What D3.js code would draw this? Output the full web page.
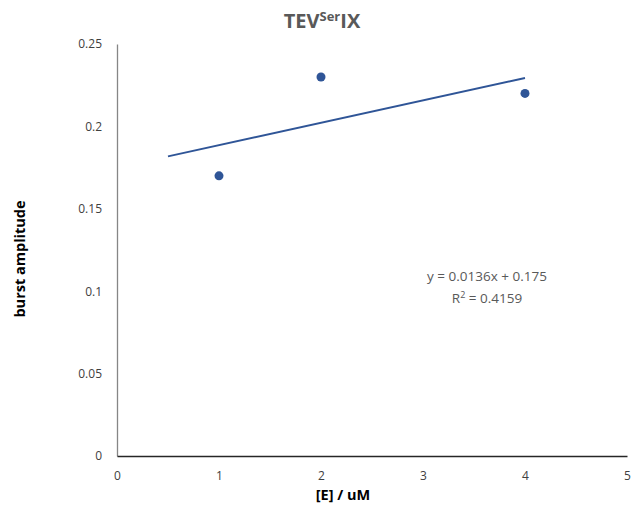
<!DOCTYPE html>
<html>
<head>
<meta charset="utf-8">
<script src="https://cdn.jsdelivr.net/npm/d3@7"></script>
<style>
  body { margin: 0; background: #fff; }
  text { font-family: "Open Sans", "Liberation Sans", sans-serif; }
</style>
</head>
<body>
<div class="container"></div>
<script>
// Data
const xValues = [1, 2, 4];
const yValues = [0.17, 0.23, 0.22];
const xTicks = [0, 1, 2, 3, 4, 5];
const yTicks = [0, 0.05, 0.1, 0.15, 0.2, 0.25];
const yTickLabels = ['0', '0.05', '0.1', '0.15', '0.2', '0.25'];
// trendline y = 0.0136x + 0.175, drawn from x = 0.5 to 4
const trendX = [0.5, 4];
const slope = 0.0136;
const intercept = 0.175;

const width = 638;
const height = 512;

const svg = d3.select('.container')
    .append('svg')
    .attr('width', width)
    .attr('height', height);

const xScale = d3.scaleLinear().domain([0, 5]).range([117, 627]);
const yScale = d3.scaleLinear().domain([0, 0.25]).range([456, 44]);

// Y axis
const yAxis = d3.axisLeft(yScale)
    .tickValues(yTicks)
    .tickSize(0)
    .tickPadding(15)
    .tickFormat((d, i) => yTickLabels[i]);

const gy = svg.append('g')
    .attr('transform', `translate(${xScale(0)}, 0)`)
    .call(yAxis);
gy.select('.domain').attr('stroke', '#868686').attr('stroke-width', 1.3);
gy.selectAll('text').attr('fill', '#404040').style('font-size', '12px');

// X axis
const xAxis = d3.axisBottom(xScale)
    .tickValues(xTicks)
    .tickSize(0)
    .tickPadding(15)
    .tickFormat(d3.format('d'));

const gx = svg.append('g')
    .attr('transform', `translate(0, ${yScale(0)})`)
    .call(xAxis);
gx.select('.domain').attr('stroke', '#262626').attr('stroke-width', 1.3);
gx.selectAll('text').attr('fill', '#404040').style('font-size', '12px');

// Trendline
const line = d3.line()
    .x(d => xScale(d))
    .y(d => yScale(slope * d + intercept));

svg.append('path')
    .datum(trendX)
    .attr('d', line)
    .attr('fill', 'none')
    .attr('stroke', '#2f5597')
    .attr('stroke-width', 2);

// Points
svg.selectAll('circle')
    .data(xValues)
    .enter()
    .append('circle')
    .attr('cx', d => xScale(d))
    .attr('cy', (d, i) => yScale(yValues[i]))
    .attr('r', 4.5)
    .attr('fill', '#2f5597');

// Title
const title = svg.append('text')
    .attr('x', 322)
    .attr('y', 28)
    .attr('text-anchor', 'middle')
    .attr('fill', '#595959')
    .style('font-size', '20px')
    .style('font-weight', 'bold');
title.append('tspan').text('TEV');
title.append('tspan').attr('dy', -7).style('font-size', '13px').text('Ser');
title.append('tspan').attr('dy', 7).text('IX');

// Axis titles
svg.append('text')
    .attr('x', 343)
    .attr('y', 500)
    .attr('text-anchor', 'middle')
    .attr('fill', '#000')
    .style('font-size', '14.5px')
    .style('font-weight', 'bold')
    .text('[E] / uM');

svg.append('text')
    .attr('transform', 'translate(25, 259) rotate(-90)')
    .attr('text-anchor', 'middle')
    .attr('fill', '#000')
    .style('font-size', '14.5px')
    .style('font-weight', 'bold')
    .text('burst amplitude');

// Equation
svg.append('text')
    .attr('x', 487)
    .attr('y', 281)
    .attr('text-anchor', 'middle')
    .attr('fill', '#595959')
    .style('font-size', '13.5px')
    .text('y = 0.0136x + 0.175');

const r2 = svg.append('text')
    .attr('x', 487)
    .attr('y', 303)
    .attr('text-anchor', 'middle')
    .attr('fill', '#595959')
    .style('font-size', '13.5px');
r2.append('tspan').text('R');
r2.append('tspan').attr('dy', -5).style('font-size', '9px').text('2');
r2.append('tspan').attr('dy', 5).text(' = 0.4159');
</script>
</body>
</html>
